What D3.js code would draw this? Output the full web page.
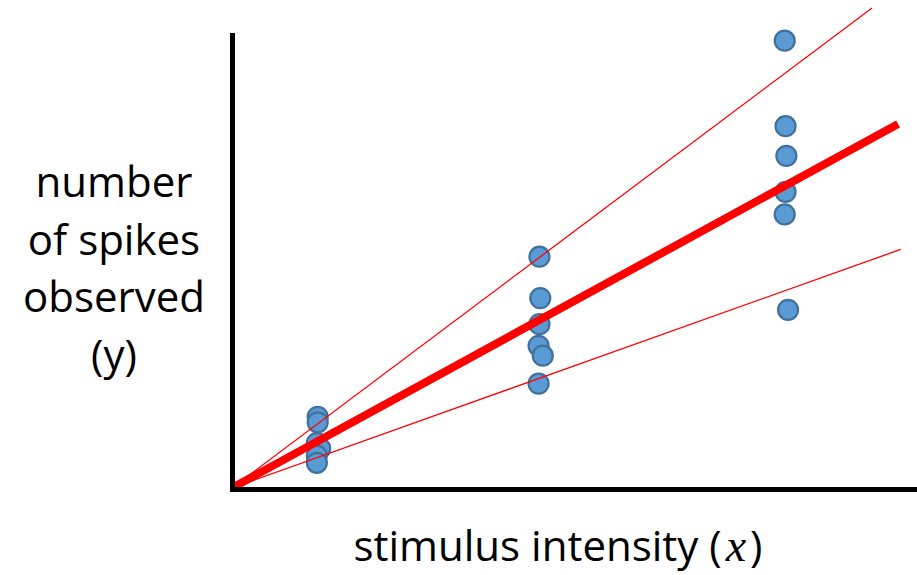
<!DOCTYPE html>
<html>
<head>
<meta charset="utf-8">
<script src="https://cdn.jsdelivr.net/npm/d3@7"></script>
<style>
  html, body { margin: 0; padding: 0; background: #fff; }
  svg { display: block; }
  text { font-family: "Open Sans", "Noto Sans", sans-serif; fill: #000; }
</style>
</head>
<body>
<svg id="chart" width="917" height="575"></svg>
<script>
// Stimulus intensity of each trial (three stimulus levels, six trials each)
const stimulus = [
  1.02, 1.02, 1.01, 1.05, 1.01, 1.01,
  3.66, 3.67, 3.66, 3.65, 3.70, 3.65,
  6.58, 6.59, 6.60, 6.59, 6.58, 6.62
];
// Number of spikes observed on each trial
const spikes = [
  7.9, 7.3, 5.0, 4.4, 3.6, 2.8,
  25.7, 21.1, 18.2, 15.8, 14.7, 11.6,
  49.7, 40.2, 36.9, 32.9, 30.4, 19.8
];
// Lines through the origin: y = slope * x (upper bound, best fit, lower bound)
const lineNames = ["upper", "fit", "lower"];
const lineSlopes = [7.0, 5.1, 3.33];
const lineEnds = [7.62, 7.93, 7.96];

const yLabelLines = ["number", "of spikes", "observed", "(y)"];
const xLabelText = "stimulus intensity ";
const xLabelVar = "x";

const svg = d3.select("#chart");

const x = d3.scaleLinear().domain([0, 8.155]).range([232, 917]);
const y = d3.scaleLinear().domain([0, 50.33]).range([488, 35]);

// Data points
svg.append("g")
  .selectAll("circle")
  .data(stimulus.map((s, i) => ({ s, n: spikes[i] })))
  .join("circle")
  .attr("cx", d => x(d.s))
  .attr("cy", d => y(d.n))
  .attr("r", 10)
  .attr("fill", "#5b9bd5")
  .attr("stroke", "#41719c")
  .attr("stroke-width", 2.2);

// Proportional lines from the origin
const lineGen = d3.line().x(d => x(d[0])).y(d => y(d[1]));
svg.append("g")
  .selectAll("path")
  .data(lineNames.map((name, i) => ({ name, slope: lineSlopes[i], end: lineEnds[i] })))
  .join("path")
  .attr("d", d => lineGen([[0, 0], [d.end, d.slope * d.end]]))
  .attr("fill", "none")
  .attr("stroke", "#ff0000")
  .attr("stroke-width", d => d.name === "fit" ? 8 : 1.3);

// Axes: bare heavy lines, no ticks
const yAxis = d3.axisLeft(y).tickValues([]).tickSizeOuter(0);
const xAxis = d3.axisBottom(x).tickValues([]).tickSizeOuter(0);

const gy = svg.append("g").attr("transform", `translate(${x(0)},0)`).call(yAxis);
const gx = svg.append("g").attr("transform", `translate(0,${y(0) + 1})`).call(xAxis);
[gx, gy].forEach(g => g.select(".domain")
  .attr("stroke", "#000")
  .attr("stroke-width", 5)
  .attr("stroke-linecap", "square"));

// Axis titles
const yTitle = svg.append("text")
  .attr("text-anchor", "middle")
  .attr("font-size", 42);
yLabelLines.forEach((t, i) => {
  yTitle.append("tspan")
    .attr("x", 114)
    .attr("y", 197 + i * 57.5)
    .text(t);
});

const xTitle = svg.append("text")
  .attr("x", 558)
  .attr("y", 561)
  .attr("text-anchor", "middle")
  .attr("font-size", 42);
xTitle.append("tspan").text(xLabelText + "(");
xTitle.append("tspan")
  .attr("dx", 4)
  .attr("font-family", "'Liberation Serif', 'DejaVu Serif', serif")
  .attr("font-style", "italic")
  .attr("font-size", 46)
  .text(xLabelVar);
xTitle.append("tspan").attr("dx", 4).text(")");
</script>
</body>
</html>
